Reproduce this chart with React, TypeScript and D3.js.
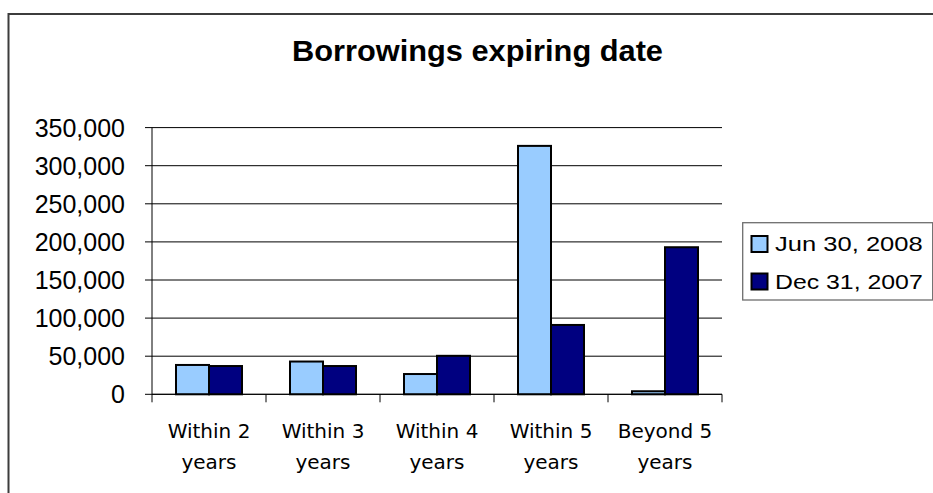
import React from "react";
import * as d3 from "d3";

const categories = ["Within 2 years", "Within 3 years", "Within 4 years", "Within 5 years", "Beyond 5 years"];
const categoryLines = [["Within 2", "years"], ["Within 3", "years"], ["Within 4", "years"], ["Within 5", "years"], ["Beyond 5", "years"]];
const seriesNames = ["Jun 30, 2008", "Dec 31, 2007"];
const jun2008 = [38500, 43000, 26600, 326000, 4000];
const dec2007 = [37100, 37100, 50500, 91000, 193000];
const yTicks = [0, 50000, 100000, 150000, 200000, 250000, 300000, 350000];
const seriesColors = ["#99CCFF", "#000080"];
const title = "Borrowings expiring date";

export default function App() {
  const W = 933, H = 493;
  const x0 = 152, x1 = 722, yBottom = 394.3, yTop = 127.6;
  const x = d3.scaleBand<string>().domain(categories).range([x0, x1]).paddingInner(0).paddingOuter(0);
  const y = d3.scaleLinear().domain([0, 350000]).range([yBottom, yTop]);
  const groupW = 66;
  const xs = d3.scaleBand<string>().domain(seriesNames).range([0, groupW]).padding(0);
  const fmt = d3.format(",");
  const series = [jun2008, dec2007];
  const bw = x.bandwidth();

  return (
    <svg width={W} height={H} viewBox={`0 0 ${W} ${H}`} style={{ position: "absolute", left: 0, top: 0, background: "#fff" }}>
      <rect x={0} y={0} width={W} height={H} fill="#fff" />
      {/* chart frame */}
      <path d={`M8.5,${H} V14 H${W}`} fill="none" stroke="#3c3c3c" strokeWidth={2} />
      {/* title */}
      <text x={477.5} y={61} textAnchor="middle" fontFamily="'Liberation Sans', Arial, sans-serif" fontWeight="bold" fontSize={29} textLength={371} lengthAdjust="spacingAndGlyphs" fill="#000">{title}</text>
      {/* gridlines and y ticks */}
      {yTicks.map((t) => (
        <g key={t}>
          <line x1={x0 - 7} x2={x1} y1={y(t)} y2={y(t)} stroke="#000" strokeWidth={1} />
          <text x={125} y={y(t) + 9} textAnchor="end" fontFamily="'Liberation Sans', Arial, sans-serif" fontSize={25} fill="#000">{fmt(t)}</text>
        </g>
      ))}
      {/* bars */}
      {categories.map((c, i) => (
        <g key={c}>
          {series.map((vals, s) => {
            const bx = (x(c) as number) + (bw - groupW) / 2 + (xs(seriesNames[s]) as number);
            return (
              <rect key={s} x={bx} y={y(vals[i])} width={xs.bandwidth()} height={yBottom - y(vals[i])} fill={seriesColors[s]} stroke="#000" strokeWidth={2} />
            );
          })}
        </g>
      ))}
      {/* axes */}
      <line x1={x0} x2={x0} y1={yTop} y2={yBottom} stroke="#000" strokeWidth={1} />
      <line x1={x0} x2={x1} y1={yBottom} y2={yBottom} stroke="#000" strokeWidth={1} />
      {[...categories.map((c) => x(c) as number), x1].map((tx, i) => (
        <line key={i} x1={tx} x2={tx} y1={yBottom} y2={yBottom + 8} stroke="#000" strokeWidth={1} />
      ))}
      {/* category labels */}
      {categories.map((c, i) => (
        <text key={c} textAnchor="middle" fontFamily="'DejaVu Sans', Tahoma, sans-serif" fontSize={20} fill="#000">
          <tspan x={(x(c) as number) + bw / 2} y={438.3}>{categoryLines[i][0]}</tspan>
          <tspan x={(x(c) as number) + bw / 2} y={468.5}>{categoryLines[i][1]}</tspan>
        </text>
      ))}
      {/* legend */}
      <rect x={742.7} y={222.7} width={190} height={77.3} fill="#fff" stroke="#6e6e6e" strokeWidth={1.3} />
      {seriesNames.map((n, s) => (
        <g key={n}>
          <rect x={751.5} y={[236, 273.5][s]} width={16} height={16} fill={seriesColors[s]} stroke="#000" strokeWidth={2} />
          <text x={775} y={[250.7, 289][s]} fontFamily="'Liberation Sans', Arial, sans-serif" fontSize={21} textLength={147.7} lengthAdjust="spacingAndGlyphs" fill="#000">{n}</text>
        </g>
      ))}
    </svg>
  );
}
